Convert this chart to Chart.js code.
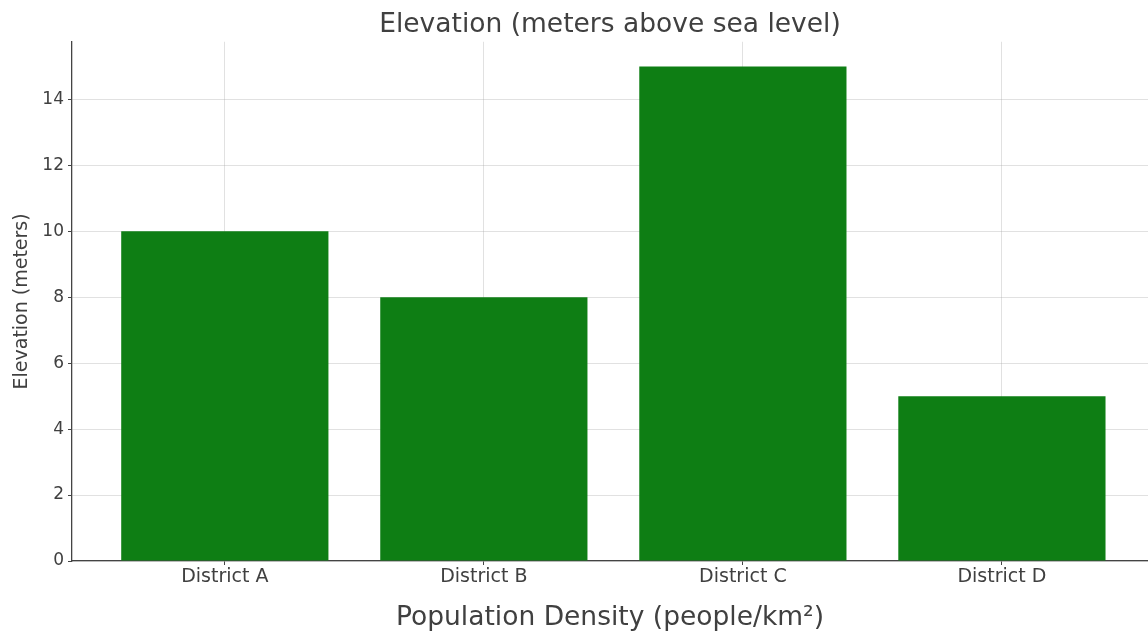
<!DOCTYPE html>
<html>
<head>
<meta charset="utf-8">
<script src="https://cdn.jsdelivr.net/npm/chart.js@4"></script>
<style>
  html, body { margin: 0; padding: 0; background: #fff; overflow: hidden; }
  #wrap { width: 1148px; height: 632px; }
</style>
</head>
<body>
<div id="wrap"><canvas id="elevChart" width="1148" height="632"></canvas></div>
<script>
const districts = ['District A', 'District B', 'District C', 'District D'];
const elevations = [10, 8, 15, 5];
const yTicks = [0, 2, 4, 6, 8, 10, 12, 14];

const barGreen = '#0e7e14';
const gridColor = 'rgba(170, 170, 170, 0.35)';
const axisColor = '#444';
const textColor = '#404040';

Chart.defaults.font.family = "'DejaVu Sans', sans-serif";
Chart.defaults.color = textColor;

const ctx = document.getElementById('elevChart').getContext('2d');
const elevChart = new Chart(ctx, {
    type: 'bar',
    data: {
        datasets: [{
            label: 'Elevation',
            data: districts.map((d, i) => ({ x: i, y: elevations[i] })),
            backgroundColor: barGreen,
            borderWidth: 0,
            barPercentage: 0.8,
            categoryPercentage: 1
        }]
    },
    options: {
        responsive: false,
        animation: false,
        layout: { padding: 0 },
        plugins: {
            legend: { display: false },
            tooltip: { enabled: false },
            title: {
                display: true,
                fullSize: false,
                text: 'Elevation (meters above sea level)',
                color: textColor,
                font: { size: 26.5, weight: 'normal' },
                padding: { top: 9, bottom: 1 }
            }
        },
        scales: {
            x: {
                type: 'linear',
                min: -0.59,
                max: 3.564,
                offset: false,
                z: 1,
                grid: {
                    color: gridColor,
                    offset: false,
                    tickLength: 4,
                    tickColor: axisColor
                },
                border: { color: axisColor, width: 1.3 },
                afterBuildTicks: (scale) => {
                    scale.ticks = districts.map((d, i) => ({ value: i }));
                },
                afterFit: (scale) => { scale.height = 71; },
                ticks: {
                    autoSkip: false,
                    maxRotation: 0,
                    padding: 1,
                    color: textColor,
                    font: { size: 19 },
                    callback: (value) => districts[value]
                },
                title: {
                    display: true,
                    text: 'Population Density (people/km²)',
                    color: textColor,
                    font: { size: 26.5 },
                    padding: { top: 0, bottom: -2 }
                }
            },
            y: {
                min: 0,
                max: 15.75,
                z: 1,
                grid: {
                    color: gridColor,
                    tickLength: 4,
                    tickColor: axisColor
                },
                border: { color: axisColor, width: 1.3 },
                afterBuildTicks: (scale) => {
                    scale.ticks = yTicks.map(v => ({ value: v }));
                },
                afterFit: (scale) => { scale.width = 72; },
                ticks: {
                    padding: 4,
                    color: textColor,
                    font: { size: 17 }
                },
                title: {
                    display: true,
                    text: 'Elevation (meters)',
                    color: textColor,
                    font: { size: 19 },
                    padding: { top: 11, bottom: 0 }
                }
            }
        }
    }
});
</script>
</body>
</html>
